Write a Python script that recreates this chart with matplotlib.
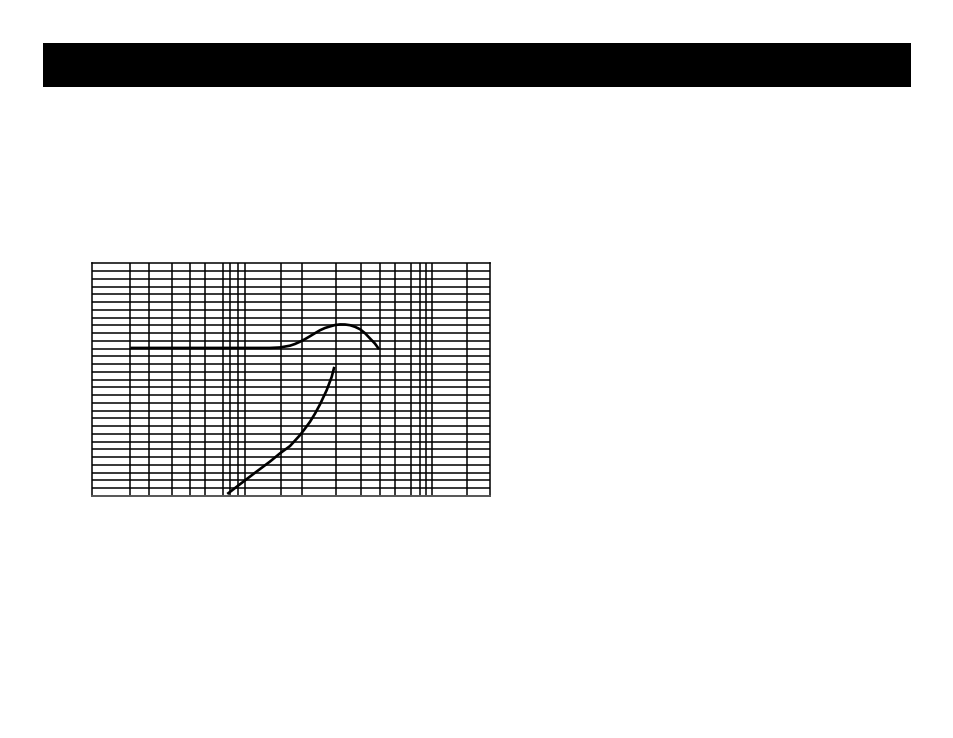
import numpy as np
import matplotlib
matplotlib.use('Agg')
import matplotlib.pyplot as plt
from matplotlib.patches import Rectangle

# chart units: x runs 0..397.5 across the box, y runs 0..30 (one unit per row)
X_MAX = 397.5
N_ROWS = 30

# vertical rules of the chart grid (irregular spacing, as drawn)
vlines = [37.8, 56.8, 79.8, 97.8, 112.8, 130.2, 137.8, 145.2, 152.8, 188.2,
          209.8, 243.2, 268.2, 287.2, 302.5, 318.2, 327.2, 333.8, 339.5, 374.2]

# upper curve (flat, bump, roll-off)
upper_x = [37.8, 177.5, 187.5, 197.5, 202.5, 207.5, 212.5, 217.5, 222.5,
           227.5, 232.5, 237.5, 242.5, 247.5, 252.5, 257.5, 262.5, 267.5,
           272.5, 277.5, 282.5, 286.5]
upper_y = [19.09, 19.09, 19.15, 19.38, 19.60, 19.89, 20.22, 20.60, 20.99,
           21.37, 21.66, 21.86, 22.04, 22.12, 22.11, 22.02, 21.81, 21.50,
           20.99, 20.31, 19.64, 18.93]

# lower curve (rising)
lower_x = [134.8, 147.5, 160.8, 177.5, 187.5, 197.5, 207.5, 212.5, 217.5,
           222.5, 227.5, 234.2, 239.2, 241.8]
lower_y = [0.26, 1.52, 2.83, 4.44, 5.50, 6.44, 7.85, 8.69, 9.57, 10.62,
           11.81, 13.65, 15.36, 16.65]

fig = plt.figure(figsize=(9.54, 7.38), dpi=100)
fig.patch.set_facecolor('white')

# black header band
fig.patches.append(Rectangle((42.7 / 954, 1 - 86.7 / 738), (910.7 - 42.7) / 954,
                             (86.7 - 42.7) / 738, transform=fig.transFigure,
                             facecolor='black', edgecolor='none'))

ax = fig.add_axes([92.5 / 954, 1 - 496 / 738, (490 - 92.5) / 954, (496 - 263.3) / 738])
ax.set_xlim(0, X_MAX)
ax.set_ylim(0, N_ROWS)

for xv in vlines:
    ax.axvline(xv, color='black', lw=1.1, zorder=1)
for yv in range(1, N_ROWS):
    ax.axhline(yv, color='black', lw=1.1, zorder=1)

ax.plot(upper_x, upper_y, color='black', lw=1.9, solid_capstyle='butt',
        solid_joinstyle='round', zorder=3)
ax.plot(lower_x, lower_y, color='black', lw=1.9, solid_capstyle='butt',
        solid_joinstyle='round', zorder=3)

ax.set_xticks([])
ax.set_yticks([])
for s in ax.spines.values():
    s.set_linewidth(1.1)
    s.set_color('black')
ax.spines['bottom'].set_color('#555555')
ax.spines['bottom'].set_linewidth(1.4)

fig.savefig('out.png', dpi=100)
